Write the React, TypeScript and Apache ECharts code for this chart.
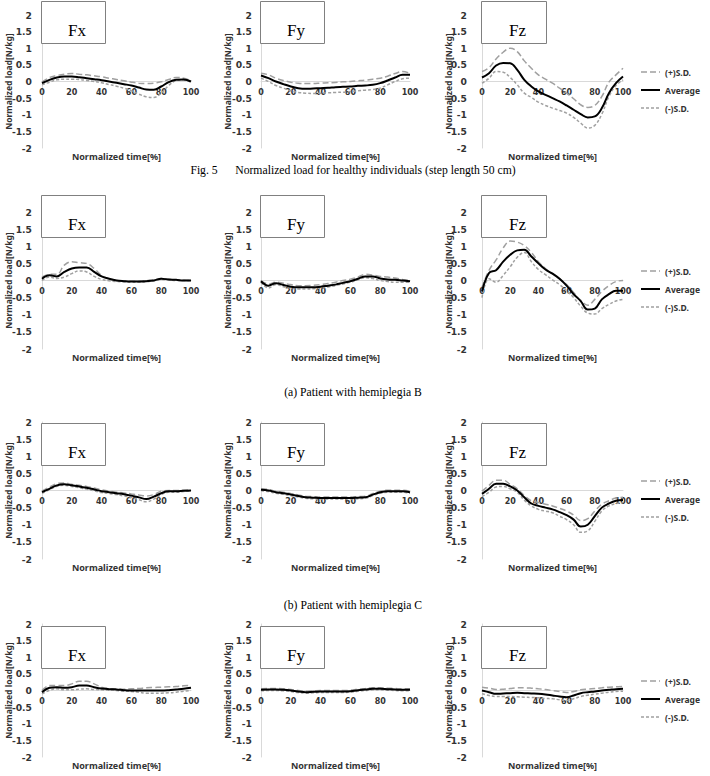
import React, { useEffect, useRef } from "react";
import * as echarts from "echarts";

// Normalized time axis samples [%]
const timePct = [0, 5, 10, 15, 20, 25, 30, 35, 40, 45, 50, 55, 60, 65, 70, 75, 80, 85, 90, 95, 100];

// Healthy individuals (step length 50 cm)
const healthyFxPlus = [-0.02, 0.12, 0.18, 0.22, 0.24, 0.22, 0.2, 0.17, 0.14, 0.1, 0.06, 0.02, -0.02, -0.05, -0.06, -0.05, -0.01, 0.06, 0.12, 0.1, 0.03];
const healthyFxAvg = [-0.05, 0.05, 0.12, 0.15, 0.15, 0.13, 0.1, 0.07, 0.04, 0.0, -0.04, -0.08, -0.12, -0.18, -0.24, -0.25, -0.15, -0.02, 0.05, 0.06, 0.0];
const healthyFxMinus = [-0.1, -0.02, 0.05, 0.07, 0.07, 0.06, 0.03, 0.0, -0.04, -0.09, -0.14, -0.2, -0.28, -0.38, -0.46, -0.48, -0.35, -0.12, 0.03, 0.05, -0.02];

const healthyFyPlus = [0.25, 0.2, 0.1, 0.03, -0.02, -0.05, -0.06, -0.06, -0.05, -0.04, -0.03, -0.01, 0.0, 0.02, 0.04, 0.07, 0.1, 0.16, 0.24, 0.3, 0.25];
const healthyFyAvg = [0.18, 0.1, 0.0, -0.08, -0.15, -0.2, -0.22, -0.21, -0.2, -0.19, -0.17, -0.16, -0.15, -0.13, -0.12, -0.1, -0.05, 0.03, 0.12, 0.2, 0.2];
const healthyFyMinus = [0.1, 0.0, -0.12, -0.2, -0.28, -0.33, -0.35, -0.36, -0.35, -0.34, -0.33, -0.32, -0.3, -0.28, -0.26, -0.24, -0.2, -0.1, 0.0, 0.08, 0.1];

const healthyFzPlus = [0.3, 0.42, 0.68, 0.88, 1.0, 0.9, 0.62, 0.4, 0.2, 0.07, -0.05, -0.2, -0.35, -0.52, -0.7, -0.78, -0.72, -0.45, -0.02, 0.2, 0.4];
const healthyFzAvg = [0.12, 0.25, 0.48, 0.56, 0.55, 0.35, 0.05, -0.15, -0.3, -0.4, -0.5, -0.6, -0.72, -0.85, -0.98, -1.08, -1.05, -0.8, -0.35, -0.05, 0.15];
const healthyFzMinus = [-0.05, 0.1, 0.3, 0.28, 0.12, -0.1, -0.35, -0.48, -0.62, -0.72, -0.8, -0.87, -0.95, -1.08, -1.25, -1.4, -1.32, -0.98, -0.45, -0.12, 0.05];

// Patient with hemiplegia B
const patientBFxPlus = [0.1, 0.18, 0.18, 0.45, 0.55, 0.52, 0.5, 0.35, 0.15, 0.05, 0.0, -0.01, -0.02, -0.02, 0.0, 0.02, 0.06, 0.04, 0.02, 0.01, 0.0];
const patientBFxAvg = [0.05, 0.15, 0.12, 0.25, 0.35, 0.38, 0.38, 0.25, 0.12, 0.05, 0.0, -0.02, -0.03, -0.03, -0.02, 0.0, 0.05, 0.03, 0.02, 0.0, 0.0];
const patientBFxMinus = [0.0, 0.1, 0.06, 0.1, 0.2, 0.28, 0.25, 0.12, 0.03, -0.01, -0.03, -0.04, -0.05, -0.05, -0.04, -0.01, 0.03, 0.02, 0.0, 0.0, 0.0];

const patientBFyPlus = [0.0, -0.1, -0.05, -0.08, -0.12, -0.15, -0.15, -0.14, -0.12, -0.09, -0.05, 0.0, 0.04, 0.1, 0.18, 0.16, 0.12, 0.1, 0.07, 0.03, 0.0];
const patientBFyAvg = [-0.02, -0.15, -0.08, -0.13, -0.18, -0.2, -0.2, -0.2, -0.18, -0.15, -0.12, -0.07, -0.02, 0.05, 0.12, 0.12, 0.06, 0.03, 0.02, 0.0, -0.02];
const patientBFyMinus = [-0.05, -0.22, -0.12, -0.18, -0.22, -0.25, -0.25, -0.24, -0.22, -0.19, -0.15, -0.1, -0.05, 0.02, 0.08, 0.06, 0.0, -0.03, -0.05, -0.05, -0.05];

const patientBFzPlus = [-0.2, 0.3, 0.6, 0.95, 1.15, 1.12, 1.02, 0.82, 0.55, 0.35, 0.2, 0.05, -0.12, -0.35, -0.58, -0.72, -0.55, -0.32, -0.15, -0.03, 0.0];
const patientBFzAvg = [-0.32, 0.22, 0.3, 0.55, 0.75, 0.88, 0.9, 0.7, 0.5, 0.32, 0.2, 0.05, -0.15, -0.4, -0.6, -0.85, -0.82, -0.55, -0.4, -0.3, -0.3];
const patientBFzMinus = [-0.5, 0.05, -0.05, 0.15, 0.4, 0.68, 0.82, 0.55, 0.32, 0.17, 0.02, -0.12, -0.3, -0.5, -0.75, -0.95, -0.98, -0.82, -0.7, -0.6, -0.55];

// Patient with hemiplegia C
const patientCFxPlus = [-0.02, 0.1, 0.2, 0.22, 0.18, 0.15, 0.12, 0.07, 0.02, -0.02, -0.05, -0.07, -0.1, -0.13, -0.16, -0.12, -0.02, 0.0, 0.0, 0.01, 0.02];
const patientCFxAvg = [-0.05, 0.05, 0.15, 0.18, 0.15, 0.12, 0.08, 0.03, -0.02, -0.05, -0.08, -0.11, -0.15, -0.2, -0.25, -0.18, -0.08, -0.02, -0.02, -0.01, 0.0];
const patientCFxMinus = [-0.08, 0.02, 0.12, 0.15, 0.12, 0.08, 0.04, -0.01, -0.06, -0.09, -0.12, -0.16, -0.2, -0.27, -0.33, -0.25, -0.12, -0.05, -0.05, -0.03, -0.02];

const patientCFyPlus = [0.05, 0.03, -0.02, -0.05, -0.09, -0.13, -0.17, -0.18, -0.19, -0.19, -0.19, -0.19, -0.19, -0.18, -0.17, -0.09, -0.02, 0.01, 0.01, 0.01, -0.02];
const patientCFyAvg = [0.02, 0.0, -0.05, -0.08, -0.12, -0.16, -0.2, -0.21, -0.22, -0.22, -0.22, -0.22, -0.22, -0.21, -0.2, -0.12, -0.05, -0.02, -0.02, -0.02, -0.05];
const patientCFyMinus = [-0.01, -0.03, -0.08, -0.11, -0.15, -0.19, -0.23, -0.24, -0.25, -0.25, -0.25, -0.25, -0.25, -0.24, -0.23, -0.15, -0.08, -0.05, -0.05, -0.05, -0.08];

const patientCFzPlus = [-0.02, 0.15, 0.3, 0.3, 0.18, 0.05, -0.15, -0.3, -0.35, -0.4, -0.45, -0.52, -0.6, -0.72, -0.88, -0.82, -0.6, -0.4, -0.3, -0.22, -0.2];
const patientCFzAvg = [-0.1, 0.05, 0.2, 0.2, 0.12, 0.0, -0.2, -0.38, -0.45, -0.5, -0.55, -0.63, -0.72, -0.85, -1.05, -1.0, -0.75, -0.5, -0.38, -0.3, -0.28];
const patientCFzMinus = [-0.18, -0.05, 0.1, 0.12, 0.05, -0.05, -0.28, -0.45, -0.55, -0.6, -0.65, -0.75, -0.85, -1.0, -1.22, -1.18, -0.9, -0.6, -0.45, -0.38, -0.35];

// Fourth subject
const patientDFxPlus = [0.0, 0.15, 0.15, 0.15, 0.2, 0.28, 0.28, 0.2, 0.1, 0.06, 0.05, 0.04, 0.05, 0.06, 0.08, 0.09, 0.1, 0.11, 0.12, 0.14, 0.15];
const patientDFxAvg = [-0.05, 0.08, 0.1, 0.08, 0.1, 0.15, 0.15, 0.1, 0.06, 0.04, 0.03, 0.01, 0.0, 0.0, 0.0, 0.0, 0.0, 0.01, 0.03, 0.05, 0.08];
const patientDFxMinus = [-0.1, 0.0, 0.05, 0.02, 0.02, 0.04, 0.05, 0.03, 0.02, 0.01, 0.0, -0.02, -0.03, -0.05, -0.08, -0.08, -0.08, -0.07, -0.05, -0.02, 0.0];

const patientDFyPlus = [0.05, 0.06, 0.06, 0.05, 0.03, 0.0, -0.02, -0.01, 0.0, 0.0, 0.0, 0.0, 0.01, 0.04, 0.06, 0.08, 0.08, 0.07, 0.06, 0.05, 0.05];
const patientDFyAvg = [0.02, 0.03, 0.03, 0.02, 0.0, -0.03, -0.05, -0.04, -0.03, -0.03, -0.03, -0.03, -0.02, 0.01, 0.03, 0.05, 0.05, 0.04, 0.03, 0.02, 0.02];
const patientDFyMinus = [-0.01, 0.0, 0.0, -0.01, -0.03, -0.06, -0.08, -0.07, -0.06, -0.06, -0.06, -0.06, -0.05, -0.02, 0.0, 0.02, 0.02, 0.01, 0.0, -0.01, -0.01];

const patientDFzPlus = [0.1, 0.07, 0.03, 0.04, 0.06, 0.08, 0.08, 0.07, 0.05, 0.03, 0.0, -0.03, -0.06, -0.03, 0.02, 0.04, 0.06, 0.08, 0.1, 0.11, 0.12];
const patientDFzAvg = [0.0, -0.05, -0.1, -0.09, -0.08, -0.07, -0.08, -0.09, -0.1, -0.12, -0.15, -0.18, -0.2, -0.15, -0.08, -0.05, -0.03, 0.0, 0.02, 0.04, 0.05];
const patientDFzMinus = [-0.1, -0.15, -0.18, -0.18, -0.18, -0.19, -0.2, -0.21, -0.22, -0.24, -0.25, -0.28, -0.3, -0.25, -0.18, -0.14, -0.11, -0.08, -0.05, -0.03, -0.02];

const componentLabels = ["Fx", "Fy", "Fz"];
const legendNames = ["(+)S.D.", "Average", "(-)S.D."];
const captions = [
  "Fig. 5\u2003\u2002Normalized load for healthy individuals (step length 50 cm)",
  "(a) Patient with hemiplegia B",
  "(b) Patient with hemiplegia C",
];
const xAxisTitle = "Normalized time[%]";
const yAxisTitle = "Normalized load[N/kg]";

// [plus, average, minus] per panel, row by row
const panelCurves = [
  [healthyFxPlus, healthyFxAvg, healthyFxMinus],
  [healthyFyPlus, healthyFyAvg, healthyFyMinus],
  [healthyFzPlus, healthyFzAvg, healthyFzMinus],
  [patientBFxPlus, patientBFxAvg, patientBFxMinus],
  [patientBFyPlus, patientBFyAvg, patientBFyMinus],
  [patientBFzPlus, patientBFzAvg, patientBFzMinus],
  [patientCFxPlus, patientCFxAvg, patientCFxMinus],
  [patientCFyPlus, patientCFyAvg, patientCFyMinus],
  [patientCFzPlus, patientCFzAvg, patientCFzMinus],
  [patientDFxPlus, patientDFxAvg, patientDFxMinus],
  [patientDFyPlus, patientDFyAvg, patientDFyMinus],
  [patientDFzPlus, patientDFzAvg, patientDFzMinus],
];

// Layout (pixels)
const ROW_TOP = [15, 212, 422, 624];
const ROW_H = [133, 137, 137, 133];
const COL_LEFT = [42, 261, 482];
const COL_W = [149, 149, 141];
const COL_LABEL_MARGIN = [10, 9, 15];
const BOX_LEFT = [41, 260, 481];
const BOX_W = [64, 64, 65];
const BOX_TOP = [1, 195, 423, 626];
const BOX_H = 42;
const CAPTION_Y = [170, 392, 605];

const SANS = "'Noto Sans', 'DejaVu Sans', sans-serif";
const TICK_FONT = "'DejaVu Sans', 'Noto Sans', sans-serif";
const SERIF = "'Liberation Serif', 'DejaVu Serif', serif";
const TEXT_COLOR = "#333";
const SD_COLOR = "#a0a0a0";

const lineStyles = [
  { color: SD_COLOR, width: 1.5, type: [6, 3] },
  { color: "#000", width: 2, type: "solid" },
  { color: SD_COLOR, width: 1.5, type: [3, 2] },
];

function buildOption(): echarts.EChartsCoreOption {
  const grid: any[] = [];
  const xAxis: any[] = [];
  const yAxis: any[] = [];
  const series: any[] = [];
  const graphic: any[] = [];
  const legend: any[] = [];

  for (let row = 0; row < 4; row++) {
    for (let col = 0; col < 3; col++) {
      const p = row * 3 + col;
      const h = ROW_H[row];
      grid.push({
        left: COL_LEFT[col],
        top: ROW_TOP[row],
        width: COL_W[col],
        height: h,
        containLabel: false,
        outerBoundsMode: "none",
      });
      // time axis drawn along the zero load line (half the grid height up from the bottom)
      xAxis.push({
        type: "value",
        gridIndex: p,
        min: 0,
        max: 100,
        interval: 20,
        position: "bottom",
        offset: -h / 2,
        axisLine: { onZero: false, lineStyle: { color: "#d9d9d9", width: 1 } },
        axisTick: { show: false },
        splitLine: { show: false },
        axisLabel: { fontSize: 8, fontWeight: "bold", color: TEXT_COLOR, margin: 7, fontFamily: TICK_FONT },
      });
      yAxis.push({
        type: "value",
        gridIndex: p,
        min: -2,
        max: 2,
        interval: 0.5,
        axisLine: { show: true, onZero: false, lineStyle: { color: "#d9d9d9", width: 1 } },
        axisTick: { show: false },
        splitLine: { show: false },
        axisLabel: {
          fontSize: 9.2,
          fontWeight: "bold",
          color: TEXT_COLOR,
          margin: COL_LABEL_MARGIN[col],
          fontFamily: TICK_FONT,
          formatter: (v: number) => String(v),
        },
        name: yAxisTitle,
        nameLocation: "middle",
        nameRotate: 90,
        nameGap: 29.5,
        nameMoveOverlap: false,
        nameTextStyle: { fontSize: 8.5, fontWeight: "bold", color: TEXT_COLOR, fontFamily: SANS },
      });

      const curves = panelCurves[p];
      curves.forEach((values, k) => {
        series.push({
          type: "line",
          name: legendNames[k],
          xAxisIndex: p,
          yAxisIndex: p,
          data: timePct.map((t, i) => [t, values[i]]),
          smooth: 0.4,
          symbol: "none",
          lineStyle: lineStyles[k],
          itemStyle: { color: lineStyles[k].color },
          z: k === 1 ? 4 : 3,
        });
      });

      // x-axis title under each panel
      graphic.push({
        type: "text",
        z: 101,
        x: COL_LEFT[col] + COL_W[col] / 2,
        y: ROW_TOP[row] + h + 8.5,
        style: {
          text: xAxisTitle,
          fontSize: 9,
          fontWeight: "bold",
          fontFamily: SANS,
          fill: TEXT_COLOR,
          align: "center",
          verticalAlign: "middle",
        },
      });

      // component label box
      graphic.push({
        type: "rect",
        z: 100,
        shape: { x: BOX_LEFT[col] + 0.5, y: BOX_TOP[row] + 0.5, width: BOX_W[col], height: BOX_H },
        style: { fill: "#fff", stroke: "#808080", lineWidth: 1 },
      });
      graphic.push({
        type: "text",
        z: 101,
        x: BOX_LEFT[col] + BOX_W[col] / 2 + 4,
        y: BOX_TOP[row] + 29,
        style: {
          text: componentLabels[col],
          fontSize: 17,
          fontFamily: SERIF,
          fill: "#000",
          align: "center",
          verticalAlign: "middle",
        },
      });
    }

    const zeroY = ROW_TOP[row] + ROW_H[row] / 2;
    legend.push({
      orient: "vertical",
      left: 640,
      top: zeroY - 14,
      padding: 0,
      itemWidth: 19,
      itemHeight: 8,
      itemGap: 9,
      selectedMode: false,
      textStyle: { fontSize: 8.5, fontWeight: "bold", color: TEXT_COLOR, fontFamily: SANS },
      data: legendNames.map((n, k) => ({
        name: n,
        lineStyle: lineStyles[k],
        itemStyle: { color: lineStyles[k].color, opacity: 0 },
      })),
    });
  }

  captions.forEach((c, i) => {
    graphic.push({
      type: "text",
      z: 101,
      x: 353,
      y: CAPTION_Y[i],
      style: {
        text: c,
        fontSize: 11.7,
        fontFamily: SERIF,
        fill: "#000",
        align: "center",
        verticalAlign: "middle",
      },
    });
  });

  return {
    animation: false,
    backgroundColor: "#fff",
    grid,
    xAxis,
    yAxis,
    series,
    legend,
    graphic,
  };
}

export default function App() {
  const ref = useRef<HTMLDivElement>(null);
  useEffect(() => {
    if (!ref.current) return;
    const chart = echarts.init(ref.current, undefined, { renderer: "svg" });
    chart.setOption(buildOption());
    return () => chart.dispose();
  }, []);
  return (
    <div
      ref={ref}
      style={{ position: "absolute", left: 0, top: 0, width: 710, height: 776, background: "#fff" }}
    />
  );
}
